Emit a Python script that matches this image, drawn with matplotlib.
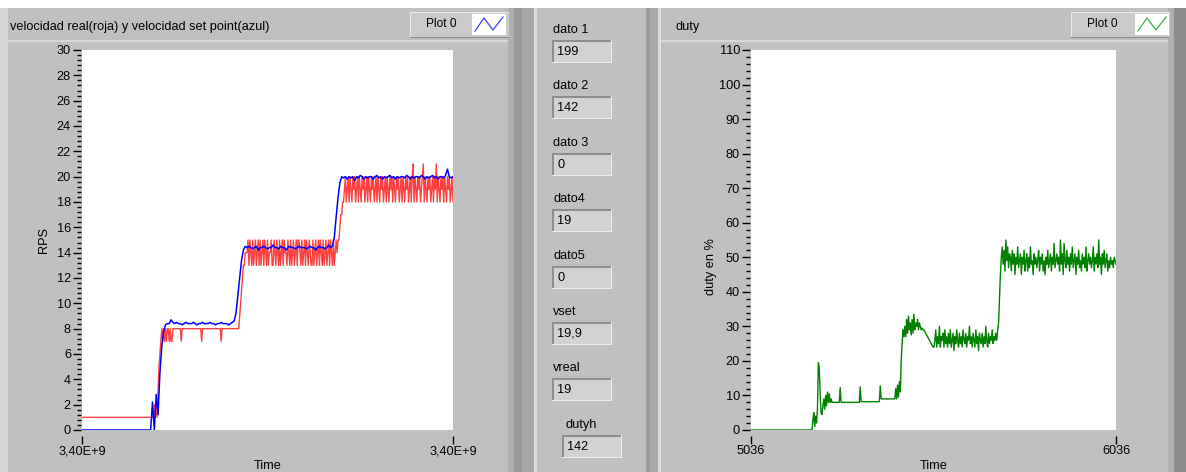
import numpy as np
import matplotlib.pyplot as plt
from matplotlib.patches import Rectangle
from matplotlib.ticker import MultipleLocator, FixedLocator

# ---- data ----
# real speed (red), RPS, one sample every 2.5 time units
vreal = ([1] * 78 +
         [2, 1, 2, 1, 3, 5, 6, 7] +
         [8, 7, 8, 7, 8, 7, 8, 8, 7, 8, 7] +
         [7] + [8] * 9 + [7] + [8] * 21 + [7] + [8] * 20 + [7] + [8] * 19 +
         [9, 10, 11, 12, 13, 13, 14, 14] +
         [14, 15, 13, 15, 14, 13, 15, 13, 14, 15, 13, 14, 15, 13,
          15, 13, 14, 15, 13, 15, 14, 13, 15, 13, 14, 14, 15, 13,
          13, 15, 14, 13, 15, 14, 13, 15, 13, 14, 15, 13, 15, 14,
          14, 13, 15, 14, 13, 15, 13, 14, 15, 13, 14, 15, 13, 15,
          15, 14, 13, 15, 13, 14, 15, 13, 15, 14, 13, 15, 14, 13,
          13, 15, 13, 14, 15, 13, 14, 15, 13, 15, 14, 13, 15, 13,
          14, 15, 13, 14, 15, 13, 15, 14, 13, 15, 13, 14, 15, 14] +
         [15, 15, 16, 17, 17, 18, 18, 19] +
         [20, 18, 19, 20, 18, 20, 19, 18, 20, 19, 20, 18, 19,
          20, 18, 20, 19, 18, 20, 19, 20, 18, 19, 20, 18, 20,
          19, 18, 20, 19, 20, 18, 19, 20, 18, 20, 19, 18, 20,
          19, 20, 18, 19, 20, 18, 20, 19, 18, 20, 19, 20, 18,
          20, 19, 18, 20, 19, 20, 18, 19, 20, 18, 20, 19, 18,
          20, 19, 20, 18, 19, 20, 18, 20, 21, 18, 20, 19, 18,
          20, 19, 20, 18, 19, 20, 21, 18, 20, 19, 18, 20, 19,
          20, 18, 19, 20, 18, 20, 19, 21, 18, 20, 19, 18, 20,
          19, 20, 18, 20, 19, 18, 20, 19, 20, 18, 19, 20, 18])

# set point speed (blue), RPS, one sample every 5 time units
vset = ([0] * 38 +
        [2.2, 0, 2.8, 1.2, 4.5, 6.6, 7.8, 8.3, 8.4, 8.4, 8.7, 8.5] +
        [8.4, 8.5, 8.4, 8.4, 8.3, 8.4, 8.5, 8.4, 8.4, 8.4, 8.5, 8.4, 8.3,
         8.4, 8.4, 8.5, 8.4, 8.4, 8.4, 8.5, 8.4, 8.4, 8.3, 8.4, 8.4, 8.5,
         8.4, 8.4, 8.4, 8.3, 8.4, 8.5, 8.6] +
        [9.2, 10.6, 12.0, 13.4, 14.2, 14.5] +
        [14.4, 14.5, 14.4, 14.3, 14.4, 14.5, 14.2, 14.4, 14.4, 14.5, 14.4,
         14.3, 14.4, 14.4, 14.6, 14.4, 14.4, 14.3, 14.5, 14.4, 14.4, 14.2,
         14.4, 14.5, 14.4, 14.4, 14.3, 14.4, 14.5, 14.4, 14.4, 14.4, 14.3,
         14.4, 14.5, 14.4, 14.4, 14.2, 14.4, 14.5, 14.4, 14.4, 14.3, 14.4,
         14.6, 14.4, 14.5] +
        [15.2, 16.8, 18.3, 19.5, 20.0] +
        [19.9, 20.0, 19.8, 20.0, 19.9, 20.0, 19.7, 20.0, 19.9, 20.1, 20.0,
         19.8, 20.0, 19.9, 20.0, 20.0, 19.8, 20.0, 20.1, 19.9, 20.0, 19.8,
         20.0, 19.9, 20.0, 20.1, 19.9, 20.0, 19.8, 20.0, 19.9, 20.0, 20.0,
         19.9, 20.1, 20.0, 19.8, 20.0, 19.9, 20.0, 20.0, 19.9, 20.1, 20.0,
         19.8, 20.0, 19.9, 20.0, 20.1, 19.9, 20.0, 19.8, 20.0, 20.0, 19.9,
         20.1, 20.6, 20.0, 19.9, 20.0])

# duty cycle (green), %, one sample every 2.5 time units
duty = ([0] * 68 +
        [3, 5, 1, 4, 2, 6, 19.5, 18, 10, 5, 4.5] +
        [7, 9, 6, 10, 7, 11, 8, 10.5, 8, 9] +
        [8] * 9 + [12.3] + [8] * 21 + [12.5] + [8.2] * 21 + [12.8] + [9] * 16 +
        [12, 9, 13, 9.5, 14, 11, 20, 25, 29, 27] +
        [30, 27, 32, 28, 33, 29, 31, 27.5, 32, 28, 33.5, 29, 31, 30, 32, 29,
         31, 30, 29] +
        [29.5, 29, 29, 28.5, 28, 27.5, 27, 26.5, 26, 25.5, 25, 24.5, 24, 24] +
        [26, 29, 24, 27, 25, 30, 24, 27, 26, 28, 24, 29, 25,
         27, 24, 28, 25, 29, 24, 26, 28, 23, 27, 25, 29, 26,
         24, 28, 25, 27, 24, 29, 26, 25, 28, 24, 27, 26, 30,
         25, 27, 24, 28, 26, 24, 29, 25, 27, 23, 28, 26, 25,
         28, 24, 27, 25, 30, 26, 24, 28, 25, 27, 26, 29, 25,
         27, 26, 28, 26] +
        [29, 31, 38, 45, 50, 53, 48] +
        [52, 46, 55, 49, 53, 47, 51, 50, 46, 52, 48, 51,
         45, 50, 48, 53, 47, 49, 51, 45, 50, 48, 52, 46,
         49, 51, 46, 50, 47, 53, 48, 49, 45, 51, 48, 50,
         47, 49, 52, 46, 50, 48, 51, 46, 49, 45, 50, 48,
         52, 47, 49, 51, 46, 50, 48, 54, 47, 49, 51, 48,
         50, 46, 55, 48, 51, 45, 54, 49, 47, 52, 48, 50,
         46, 51, 48, 53, 47, 49, 51, 45, 50, 48, 52, 47,
         49, 46, 51, 48, 50, 47, 53, 46, 49, 51, 48, 50,
         47, 49, 53, 46, 50, 48, 51, 47, 55, 48, 50, 45,
         51, 48, 52, 47, 49, 51, 46, 49, 47, 50, 48, 49, 47, 50, 49, 48])

left_xticklabels = ["3,40E+9", "3,40E+9"]
duty_t0, duty_t1 = 5036, 6036

ind_names = ["dato 1", "dato 2", "dato 3", "dato4", "dato5", "vset", "vreal", "dutyh"]
ind_values = ["199", "142", "0", "19", "0", "19,9", "19", "142"]

# ---- figure in pixel units ----
W, H = 1186, 472
FONT = "Liberation Sans"
FS = 9.2
fig = plt.figure(figsize=(W / 100, H / 100), dpi=100)
fig.patch.set_facecolor("white")
bg = fig.add_axes([0, 0, 1, 1], zorder=0)
bg.set_xlim(0, W)
bg.set_ylim(H, 0)
bg.axis("off")


def rect(x, y, w, h, c):
    bg.add_patch(Rectangle((x, y), w, h, facecolor=c, edgecolor="none"))


def label(x, y, s, ha="left", size=FS):
    bg.text(x, y, s, ha=ha, va="center", fontsize=size, family=FONT)


GRAY = "#c0c0c0"
# panels and separators
rect(0, 8, W, H - 8, GRAY)
rect(0, 8, 8, H - 8, "#d4d4d4")
rect(508, 8, 6, H - 8, "#b0b0b0")
rect(514, 8, 8, H - 8, "#989898")
rect(522, 8, 12, H - 8, "#a8a8a8")
rect(534, 8, 3, H - 8, "#dcdcdc")
rect(646, 8, 4, H - 8, "#9a9a9a")
rect(650, 8, 8, H - 8, "#a8a8a8")
rect(658, 8, 3, H - 8, "#dcdcdc")
rect(1168, 8, 6, H - 8, "#b0b0b0")
rect(1174, 8, 12, H - 8, "#8c8c8c")
# top edge of graph frames
rect(8, 40, 500, 2, "#d8d8d8")
rect(661, 40, 507, 2, "#d8d8d8")

# titles
label(10, 27, "velocidad real(roja) y velocidad set point(azul)")
label(676, 27, "duty")


def legend_box(x0, x1, sx0, color):
    rect(x0, 12, x1 - x0, 26, "#cacaca")
    rect(x0, 12, x1 - x0, 1, "#ececec")
    rect(x0, 12, 1, 26, "#ececec")
    rect(x0, 37, x1 - x0, 1, "#8a8a8a")
    label(x0 + 31, 24, "Plot 0", ha="center", size=8.6)
    rect(sx0, 14, 34, 21, "white")
    bg.plot([sx0 + 3, sx0 + 12, sx0 + 21, sx0 + 31], [31, 18, 30, 17],
            color=color, lw=0.9)


legend_box(410, 509, 472, "#4040ff")
legend_box(1071, 1170, 1135, "#3cb43c")

# numeric indicators
for k, (name, val) in enumerate(zip(ind_names, ind_values)):
    y = 30 + k * 56.4
    x = 552 if k < 7 else 562
    label(x + (1 if k < 7 else 3), y, name)
    rect(x, y + 10, 60, 23, "#d2d2d2")
    rect(x, y + 10, 60, 2, "#8e8e8e")
    rect(x, y + 10, 2, 23, "#8e8e8e")
    rect(x, y + 32, 60, 1, "#ececec")
    rect(x + 59, y + 10, 1, 23, "#ececec")
    label(x + 5, y + 22, val)


def px_axes(x0, y0, x1, y1):
    return fig.add_axes([x0 / W, 1 - y1 / H, (x1 - x0) / W, (y1 - y0) / H], zorder=2)


def style(ax, ymax, major, minor):
    ax.set_facecolor("white")
    for s in ax.spines.values():
        s.set_visible(False)
    ax.spines["bottom"].set_position(("outward", 4))
    ax.spines["left"].set_position(("outward", 1))
    ax.set_ylim(0, ymax)
    ax.yaxis.set_major_locator(MultipleLocator(major))
    ax.yaxis.set_minor_locator(MultipleLocator(minor))
    ax.tick_params(axis="y", which="major", length=6, width=1, pad=1,
                   labelsize=FS, colors="black")
    ax.tick_params(axis="y", which="minor", length=3, width=1)
    ax.tick_params(axis="x", length=6, width=1, pad=1, labelsize=FS)
    for t in ax.get_xticklabels() + ax.get_yticklabels():
        t.set_family(FONT)


# left graph: speeds
ax1 = px_axes(82, 50, 453, 430)
t_real = np.linspace(0, 1000, len(vreal))
t_set = np.linspace(0, 1000, len(vset))
ax1.plot(t_real, vreal, color="#ff4040", lw=1)
ax1.plot(t_set, vset, color="#0000ff", lw=1.1)
ax1.set_xlim(0, 1000)
ax1.xaxis.set_major_locator(FixedLocator([0, 1000]))
ax1.set_xticklabels(left_xticklabels)
style(ax1, 30, 2, 0.4)
ax1.set_ylabel("RPS", fontsize=FS, family=FONT)
ax1.yaxis.set_label_coords(-0.086, 0.5)
ax1.set_xlabel("Time", fontsize=FS, family=FONT)
ax1.xaxis.set_label_coords(0.5, -0.078)

# right graph: duty
ax2 = px_axes(751, 50, 1116, 430)
t_duty = np.linspace(duty_t0, duty_t1, len(duty))
ax2.plot(t_duty, duty, color="#008000", lw=1)
ax2.set_xlim(duty_t0, duty_t1)
ax2.xaxis.set_major_locator(FixedLocator([duty_t0, duty_t1]))
style(ax2, 110, 10, 2)
ax2.set_ylabel("duty en %", fontsize=FS, family=FONT)
ax2.yaxis.set_label_coords(-0.093, 0.43)
ax2.set_xlabel("Time", fontsize=FS, family=FONT)
ax2.xaxis.set_label_coords(0.5, -0.078)

fig.savefig("out.png", dpi=100)
